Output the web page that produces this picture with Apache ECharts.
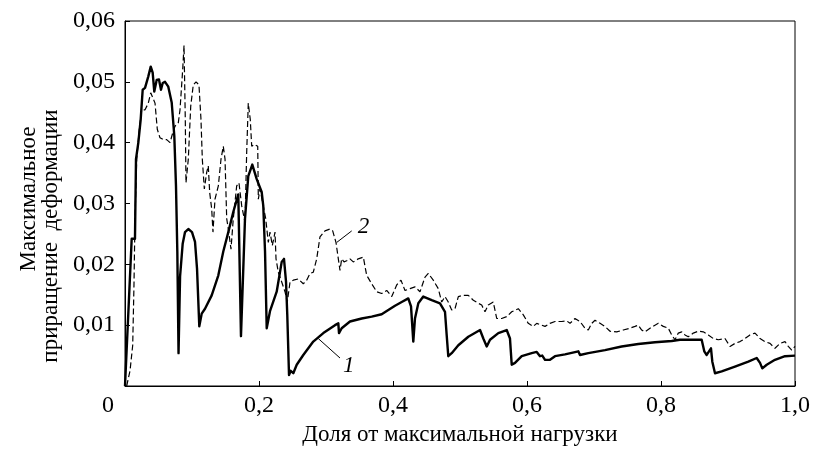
<!DOCTYPE html>
<html>
<head>
<meta charset="utf-8">
<script src="https://cdn.jsdelivr.net/npm/echarts/dist/echarts.min.js"></script>
<style>
html,body{margin:0;padding:0;background:#fff}
#main{width:813px;height:451px}
</style>
</head>
<body>
<div id="main"></div>
<script>
// кривая 1 (сплошная)
var load1 = [
  0, 0.010, 0.0149, 0.0164, 0.0199, 0.0234, 0.0264, 0.0299, 0.0324, 0.0348,
  0.0384, 0.0413, 0.0437, 0.0473, 0.0507, 0.0537, 0.0563, 0.0597, 0.0646, 0.0697,
  0.0736, 0.0761, 0.0781, 0.0799, 0.0822, 0.0861, 0.0896, 0.0945, 0.1, 0.1045,
  0.1075, 0.1109, 0.1145, 0.1194, 0.1294, 0.1393, 0.1467, 0.1542, 0.1616, 0.1691,
  0.1731, 0.1791, 0.1840, 0.19, 0.1966, 0.2040, 0.2064, 0.2090, 0.2115, 0.2164,
  0.2264, 0.2339, 0.2373, 0.2403, 0.2422, 0.2448, 0.2473, 0.2512, 0.2563, 0.2661,
  0.2810, 0.2960, 0.3134, 0.3184, 0.3194, 0.3234, 0.3358, 0.3533, 0.3682, 0.3831,
  0.3930, 0.4030, 0.4130, 0.4228, 0.4269, 0.4303, 0.4328, 0.4378, 0.4452, 0.4578,
  0.4701, 0.4776, 0.4801, 0.4825, 0.4876, 0.4975, 0.5124, 0.5299, 0.5348, 0.5399,
  0.5448, 0.5572, 0.5697, 0.5746, 0.5772, 0.5821, 0.5921, 0.6070, 0.6145, 0.6194,
  0.6228, 0.6269, 0.6343, 0.6418, 0.6567, 0.6766, 0.6791, 0.6915, 0.7164, 0.7413,
  0.7661, 0.7910, 0.8160, 0.8284, 0.8607, 0.8646, 0.8682, 0.8746, 0.8766, 0.8806,
  0.8906, 0.9104, 0.9303, 0.9428, 0.9478, 0.9512, 0.9578, 0.9701, 0.9851, 1.0
];
var strain1 = [
  0, 0.0242, 0.0242, 0.0373, 0.0400, 0.0438, 0.0487, 0.0490, 0.0492, 0.0509,
  0.0525, 0.0515, 0.0484, 0.0503, 0.0504, 0.0487, 0.0498, 0.0500, 0.0492, 0.0466,
  0.0411, 0.0329, 0.0221, 0.0054, 0.0180, 0.0234, 0.0253, 0.0258, 0.0253, 0.0237,
  0.0193, 0.0098, 0.0119, 0.0127, 0.0149, 0.0182, 0.0221, 0.0253, 0.0286, 0.0315,
  0.0082, 0.0275, 0.0345, 0.0364, 0.0340, 0.0319, 0.0296, 0.0221, 0.0095, 0.0123,
  0.0155, 0.0204, 0.0209, 0.0172, 0.0117, 0.0018, 0.0025, 0.0021, 0.0035, 0.0051,
  0.0073, 0.0087, 0.0100, 0.0103, 0.0087, 0.0095, 0.0106, 0.0111, 0.0114, 0.0118,
  0.0125, 0.0132, 0.0138, 0.0144, 0.0131, 0.0073, 0.0111, 0.0136, 0.0147, 0.0141,
  0.0136, 0.0122, 0.0084, 0.0049, 0.0054, 0.0067, 0.0081, 0.0092, 0.0078, 0.0065,
  0.0076, 0.0087, 0.0092, 0.0078, 0.0035, 0.0038, 0.0049, 0.0054, 0.0056, 0.0049,
  0.0050, 0.0043, 0.0043, 0.0049, 0.0052, 0.0057, 0.0051, 0.0054, 0.0059, 0.0065,
  0.0069, 0.0072, 0.0074, 0.0076, 0.0076, 0.0057, 0.0051, 0.0062, 0.0040, 0.0021,
  0.0024, 0.0032, 0.0040, 0.0046, 0.0038, 0.0029, 0.0035, 0.0043, 0.0049, 0.0050
];

// кривая 2 (штриховая)
var load2 = [
  0.0025, 0.0075, 0.0115, 0.0134, 0.0149, 0.0175, 0.0213, 0.0249, 0.0299, 0.0348,
  0.0384, 0.0413, 0.0448, 0.0482, 0.0522, 0.0572, 0.0622, 0.0672, 0.0712, 0.0746,
  0.0796, 0.0821, 0.0861, 0.0881, 0.0900, 0.0910, 0.0945, 0.0981, 0.1019, 0.1060,
  0.1104, 0.1134, 0.1154, 0.1184, 0.1219, 0.1243, 0.1264, 0.1294, 0.1313, 0.1343,
  0.1393, 0.1433, 0.1467, 0.1493, 0.1518, 0.1542, 0.1582, 0.1616, 0.1667, 0.1701,
  0.1742, 0.1791, 0.1816, 0.1840, 0.1870, 0.1891, 0.1930, 0.1981, 0.1990, 0.2015,
  0.2064, 0.2100, 0.2139, 0.2164, 0.2199, 0.2239, 0.2254, 0.2288, 0.2339, 0.2388,
  0.2422, 0.2463, 0.2512, 0.2587, 0.2661, 0.2712, 0.2761, 0.2810, 0.2861, 0.2910,
  0.2985, 0.3060, 0.3100, 0.3149, 0.3184, 0.3209, 0.3234, 0.3269, 0.3309, 0.3358,
  0.3407, 0.3482, 0.3557, 0.3607, 0.3682, 0.3757, 0.3831, 0.3906, 0.3981, 0.4055,
  0.4119, 0.4179, 0.4254, 0.4328, 0.4403, 0.4478, 0.4527, 0.4601, 0.4676, 0.4727,
  0.4776, 0.4825, 0.4876, 0.4925, 0.4975, 0.5049, 0.5124, 0.5199, 0.5273, 0.5324,
  0.5373, 0.5422, 0.5497, 0.5548, 0.5622, 0.5697, 0.5772, 0.5870, 0.5945, 0.6019,
  0.6094, 0.6145, 0.6219, 0.6269, 0.6343, 0.6418, 0.6518, 0.6593, 0.6642, 0.6716,
  0.6791, 0.6866, 0.6915, 0.6966, 0.7015, 0.7090, 0.7164, 0.7239, 0.7339, 0.7437,
  0.7537, 0.7612, 0.7661, 0.7712, 0.7761, 0.7836, 0.7910, 0.7960, 0.8034, 0.8109,
  0.8160, 0.8209, 0.8258, 0.8309, 0.8358, 0.8407, 0.8482, 0.8557, 0.8631, 0.8706,
  0.8781, 0.8855, 0.8955, 0.9030, 0.9104, 0.9179, 0.9254, 0.9328, 0.9403, 0.9478,
  0.9552, 0.9627, 0.9701, 0.9776, 0.9851, 0.9900, 0.9951, 1.0
];
var strain2 = [
  0, 0.0025, 0.0067, 0.0166, 0.0275, 0.0373, 0.0422, 0.0454, 0.0454, 0.0465,
  0.0482, 0.0484, 0.0465, 0.0422, 0.0408, 0.0405, 0.0405, 0.0400, 0.0416, 0.0427,
  0.0433, 0.0454, 0.0520, 0.0560, 0.0438, 0.0334, 0.0373, 0.0460, 0.0495, 0.0500,
  0.0495, 0.0438, 0.0373, 0.0324, 0.0351, 0.0362, 0.0318, 0.0291, 0.0253, 0.0307,
  0.0329, 0.0373, 0.0394, 0.0373, 0.0275, 0.0258, 0.0225, 0.0275, 0.0329, 0.0334,
  0.0296, 0.0269, 0.0383, 0.0465, 0.0438, 0.0394, 0.0397, 0.0394, 0.0307, 0.0324,
  0.0296, 0.0275, 0.0236, 0.0253, 0.0231, 0.0253, 0.0209, 0.0187, 0.0171, 0.0155,
  0.0138, 0.0171, 0.0174, 0.0176, 0.0168, 0.0174, 0.0185, 0.0187, 0.0209, 0.0245,
  0.0255, 0.0258, 0.0255, 0.0236, 0.0209, 0.0190, 0.0209, 0.0204, 0.0206, 0.0209,
  0.0204, 0.0209, 0.0212, 0.0182, 0.0168, 0.0155, 0.0152, 0.0157, 0.0147, 0.0166,
  0.0174, 0.0157, 0.0160, 0.0163, 0.0155, 0.0179, 0.0185, 0.0174, 0.0160, 0.0138,
  0.0147, 0.0138, 0.0125, 0.0127, 0.0147, 0.0149, 0.0149, 0.0141, 0.0136, 0.0133,
  0.0122, 0.0133, 0.0138, 0.0111, 0.0111, 0.0114, 0.0122, 0.0127, 0.0117, 0.0103,
  0.0098, 0.0103, 0.0100, 0.0098, 0.0103, 0.0106, 0.0106, 0.0107, 0.0103, 0.0111,
  0.0106, 0.0095, 0.0092, 0.0103, 0.0108, 0.0103, 0.0098, 0.0090, 0.0089, 0.0092,
  0.0095, 0.0098, 0.0100, 0.0092, 0.0089, 0.0095, 0.0100, 0.0103, 0.0098, 0.0095,
  0.0084, 0.0076, 0.0087, 0.0089, 0.0084, 0.0081, 0.0087, 0.0090, 0.0089, 0.0084,
  0.0078, 0.0076, 0.0078, 0.0065, 0.0070, 0.0073, 0.0078, 0.0084, 0.0087, 0.0078,
  0.0073, 0.0070, 0.0062, 0.0070, 0.0073, 0.0065, 0.0059, 0.0065
];

// подписи кривых и выноски
var curveNames = ['1', '2'];
var leader1 = [[0.2885, 0.0078], [0.3209, 0.0046]];
var leader2 = [[0.3160, 0.0236], [0.3384, 0.0255]];
var namePos1 = [0.3340, 0.0033];
var namePos2 = [0.3560, 0.0262];

var xTitle = 'Доля от максимальной нагрузки';
var yTitle1 = 'Максимальное';
var yTitle2 = 'приращение  деформации';

function zip(a, b) {
  var out = [];
  for (var i = 0; i < Math.min(a.length, b.length); i++) {
    out.push([a[i], b[i]]);
  }
  return out;
}

var FONT = '"Liberation Serif", "Times New Roman", serif';
var FS = 24;   // подписи делений
var TS = 23;   // названия осей

var myChart = echarts.init(document.getElementById('main'), null, {renderer: 'canvas'});

function curveLabel(text, pos) {
  return {
    symbol: 'circle',
    symbolSize: 1,
    itemStyle: {color: 'rgba(0,0,0,0)'},
    label: {
      show: true, position: 'inside', formatter: text,
      color: '#000', fontFamily: FONT, fontSize: 23, fontStyle: 'italic'
    },
    data: [{coord: pos}]
  };
}

function leader(seg) {
  return {
    silent: true,
    symbol: ['none', 'none'],
    lineStyle: {color: '#000', width: 1, type: 'solid'},
    label: {show: false},
    data: [[{coord: seg[0]}, {coord: seg[1]}]]
  };
}

var option = {
  animation: false,
  backgroundColor: '#fff',
  grid: {
    left: 125, right: 18, top: 21, bottom: 63,
    show: true, borderColor: '#000', borderWidth: 1
  },
  xAxis: {
    type: 'value',
    min: 0, max: 1, interval: 0.2,
    name: xTitle,
    nameLocation: 'middle',
    nameGap: 37,
    nameTextStyle: {color: '#000', fontFamily: FONT, fontSize: TS},
    axisLine: {lineStyle: {color: '#000', width: 1}},
    axisTick: {inside: true, length: 5, lineStyle: {color: '#000'}},
    splitLine: {show: false},
    axisLabel: {
      color: '#000', fontFamily: FONT, fontSize: FS, margin: 8,
      formatter: function (v) {
        if (v === 0) return '{z|0}';
        return v.toFixed(1).replace('.', ',');
      },
      rich: {z: {fontFamily: FONT, fontSize: FS, color: '#000', padding: [0, 34, 0, 0]}}
    }
  },
  yAxis: {
    type: 'value',
    min: 0, max: 0.06, interval: 0.01,
    name: '{a|' + yTitle1 + '}\n{b|' + yTitle2 + '}',
    nameLocation: 'middle',
    nameRotate: 90,
    nameGap: 57,
    nameTextStyle: {
      color: '#000', fontFamily: FONT, fontSize: TS,
      rich: {
        a: {fontFamily: FONT, fontSize: TS, color: '#000', lineHeight: 22, padding: [0, 0, 0, 9]},
        b: {fontFamily: FONT, fontSize: TS, color: '#000', lineHeight: 22, padding: [0, 65, 0, 0]}
      }
    },
    axisLine: {lineStyle: {color: '#000', width: 1}},
    axisTick: {inside: true, length: 5, lineStyle: {color: '#000'}},
    splitLine: {show: false},
    axisLabel: {
      color: '#000', fontFamily: FONT, fontSize: FS, margin: 10,
      formatter: function (v) {
        if (v === 0) return '';
        return v.toFixed(2).replace('.', ',');
      }
    }
  },
  series: [
    {
      name: curveNames[1],
      type: 'line',
      data: zip(load2, strain2),
      showSymbol: false,
      symbol: 'none',
      lineStyle: {color: '#000', width: 1.2, type: [6, 3]},
      z: 2,
      markLine: leader(leader2),
      markPoint: curveLabel(curveNames[1], namePos2)
    },
    {
      name: curveNames[0],
      type: 'line',
      data: zip(load1, strain1),
      showSymbol: false,
      symbol: 'none',
      lineStyle: {color: '#000', width: 2.4, join: 'round'},
      z: 3,
      markLine: leader(leader1),
      markPoint: curveLabel(curveNames[0], namePos1)
    }
  ]
};
myChart.setOption(option);
</script>
</body>
</html>
